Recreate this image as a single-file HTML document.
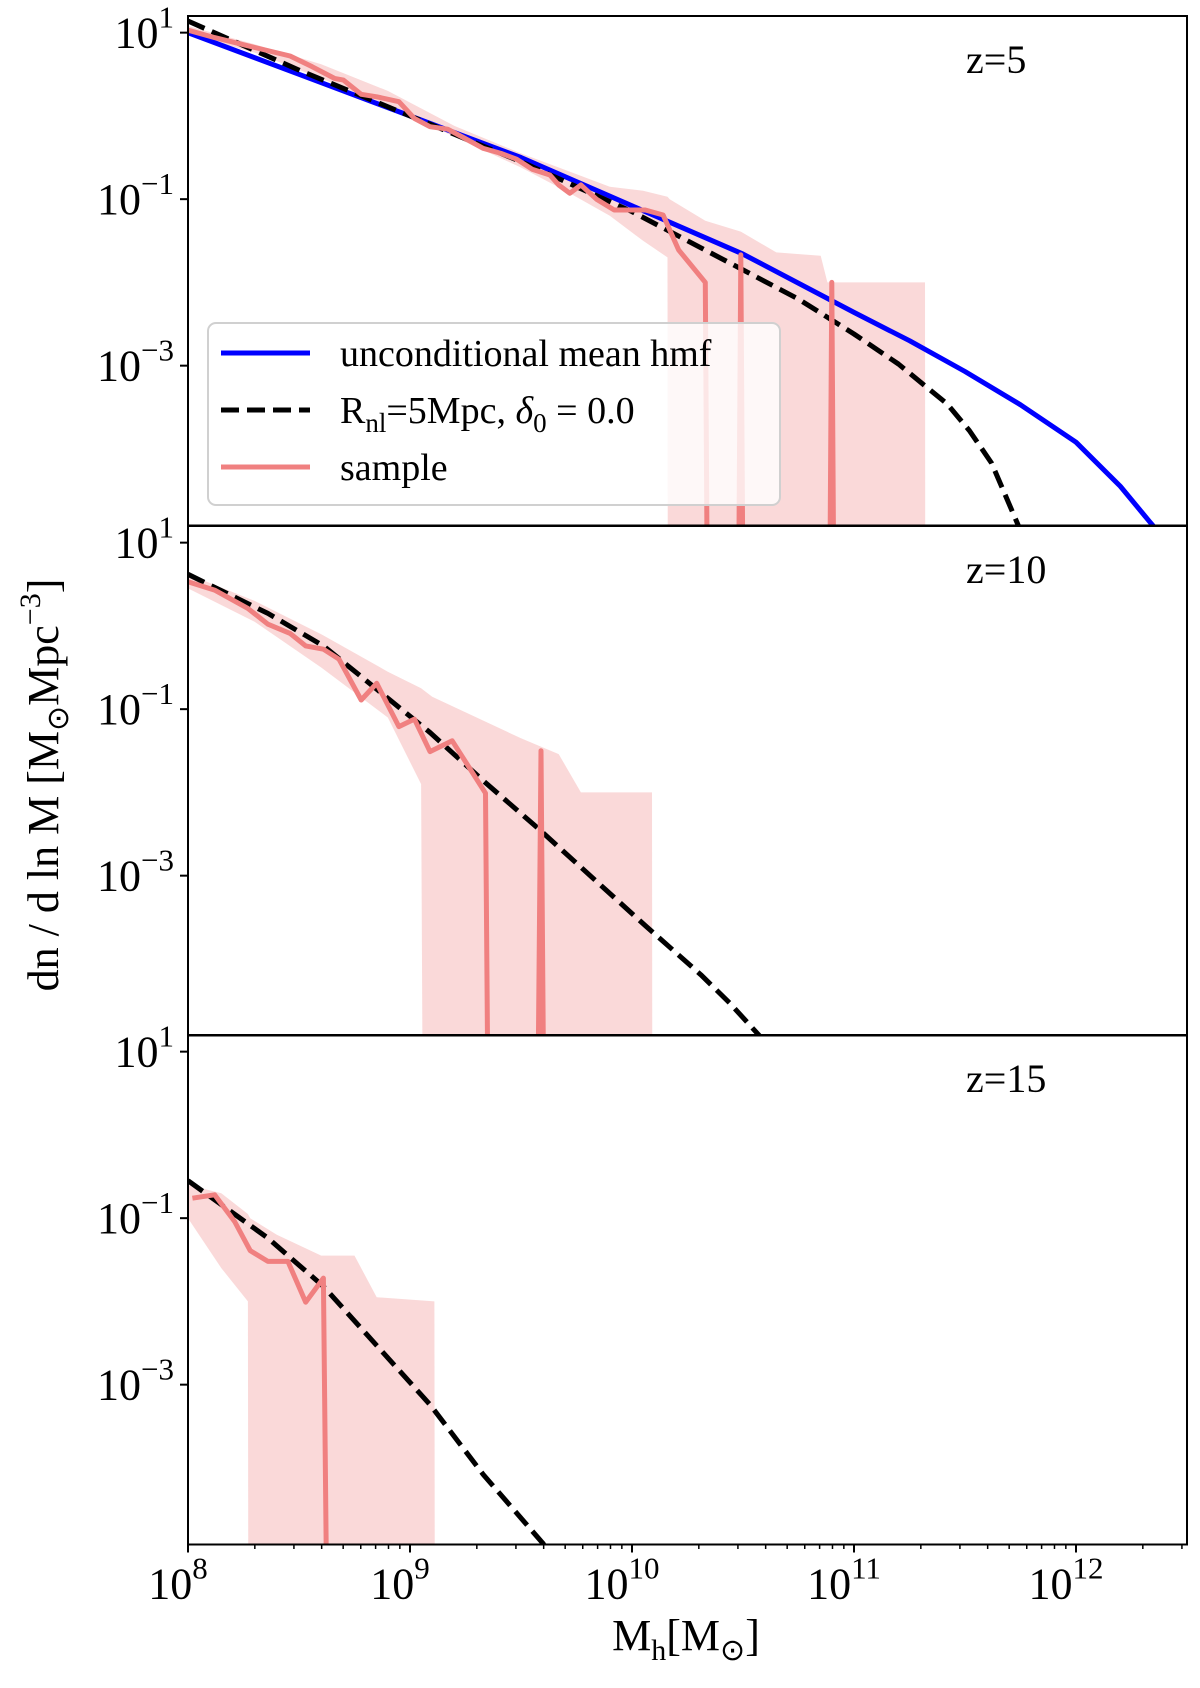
<!DOCTYPE html>
<html><head><meta charset="utf-8"><style>
html,body{margin:0;padding:0;background:#fff;width:1200px;height:1688px;overflow:hidden;}
svg{display:block;font-family:"Liberation Serif",serif;}
</style></head><body>
<svg id="fig" width="1200" height="1688" viewBox="0 0 1200 1688" xmlns="http://www.w3.org/2000/svg"></svg>
<script>
// ---- data (log10 values) ----
const xTickExps = [8, 9, 10, 11, 12];
const yTickExps = [1, -1, -3];
const panelLabels = ["z=5", "z=10", "z=15"];
// unconditional mean hmf (z=5 only)
const blueX = [8.0, 8.5, 9.0, 9.5, 10.0, 10.5, 11.0, 11.25, 11.5, 11.75, 12.0, 12.2, 12.33, 12.5];
const blueY = [1.0, 0.5, 0.0, -0.5, -1.08, -1.66, -2.36, -2.7, -3.07, -3.47, -3.92, -4.45, -4.87, -5.4];
// conditional hmf
const dashX = [
  [8.0, 8.5, 9.0, 9.5, 10.0, 10.5, 10.75, 11.0, 11.2, 11.42, 11.52, 11.62, 11.74, 11.8],
  [8.0, 8.36, 8.61, 8.85, 9.09, 9.33, 9.58, 9.82, 10.06, 10.31, 10.44, 10.57, 10.65],
  [8.0, 8.36, 8.61, 8.85, 9.09, 9.33, 9.60, 9.7]
];
const dashY = [
  [1.14, 0.55, 0.0, -0.55, -1.15, -1.85, -2.2, -2.62, -2.98, -3.46, -3.78, -4.17, -4.92, -5.3],
  [0.62, 0.15, -0.24, -0.76, -1.28, -1.86, -2.44, -3.02, -3.6, -4.19, -4.53, -4.91, -5.15],
  [-0.55, -1.24, -1.82, -2.53, -3.24, -4.08, -4.91, -5.4]
];
// sample (null = zero count)
const sampX = [
  [8.0,8.12,8.32,8.46,8.56,8.66,8.70,8.78,8.85,8.95,9.02,9.09,9.17,9.24,9.33,9.41,9.48,9.55,9.63,9.67,9.72,9.77,9.84,9.92,10.06,10.14,10.21,10.33,10.41,10.49,10.57,10.82,10.90,10.98],
  [8.0,8.12,8.27,8.36,8.46,8.53,8.61,8.68,8.78,8.85,8.95,9.02,9.09,9.19,9.34,9.42,9.50,9.59,9.67],
  [8.02,8.12,8.21,8.28,8.36,8.45,8.53,8.61,8.69]
];
const sampY = [
  [1.03,0.94,0.81,0.72,0.59,0.45,0.43,0.26,0.23,0.17,-0.03,-0.13,-0.16,-0.26,-0.39,-0.45,-0.52,-0.64,-0.71,-0.83,-0.93,-0.83,-1.0,-1.13,-1.13,-1.19,-1.61,-2.0,null,-1.67,null,null,-2.0,null],
  [0.53,0.43,0.21,0.02,-0.09,-0.24,-0.28,-0.40,-0.89,-0.69,-1.21,-1.12,-1.51,-1.38,-2.01,null,null,-1.50,null],
  [-0.76,-0.72,-1.04,-1.39,-1.52,-1.52,-2.01,-1.72,null]
];
// sample spread band
const bandX = [
  [8.0,8.3,8.6,8.9,9.2,9.5,9.7,9.9,10.05,10.16,10.17,10.33,10.49,10.65,10.85,10.88,11.32,11.33],
  [8.0,8.3,8.6,8.9,9.05,9.10,9.3,9.5,9.67,9.77,10.09,10.10],
  [8.0,8.15,8.27,8.28,8.4,8.6,8.75,8.85,9.11,9.12]
];
const bandLo = [
  [0.98,0.76,0.45,0.12,-0.25,-0.62,-0.9,-1.2,-1.5,-1.7,null,null,null,null,null,null,null,null],
  [0.45,0.05,-0.5,-1.1,-1.9,null,null,null,null,null,null,null],
  [-1.0,-1.6,-2.0,null,null,null,null,null,null,null]
];
const bandHi = [
  [1.08,0.86,0.62,0.30,-0.12,-0.45,-0.65,-0.85,-0.9,-0.97,-1.0,-1.26,-1.39,-1.64,-1.68,-2.0,-2.0,null],
  [0.62,0.3,-0.1,-0.55,-0.75,-0.85,-1.1,-1.35,-1.54,-2.0,-2.0,null],
  [-0.6,-0.7,-0.95,-1.0,-1.2,-1.45,-1.45,-1.95,-2.0,null]
];

// ---- layout ----
const L = 188, R = 1187, X0 = 8, X1 = 12.5;
const panelTop = [16, 526, 1035], PH = 509.5, Y0 = -4.92, Y1 = 1.2;
const NS = "http://www.w3.org/2000/svg";
const svg = document.getElementById('fig');
function mk(tag, attrs, parent){ const e = document.createElementNS(NS, tag); for (const k in attrs) e.setAttribute(k, attrs[k]); (parent||svg).appendChild(e); return e; }
const sx = v => L + (v - X0) / (X1 - X0) * (R - L);
function syFor(p){ return v => panelTop[p] + (Y1 - (v === null ? -300 : v)) / (Y1 - Y0) * PH; }
function pathD(xs, ys, sy){ return xs.map((x,i)=> (i?'L':'M') + sx(x).toFixed(1) + ',' + Math.max(-1000, Math.min(3000, sy(ys[i]))).toFixed(1)).join(' '); }

const defs = mk('defs', {});
for (let p = 0; p < 3; p++) {
  const cp = mk('clipPath', {id: 'clip' + p}, defs);
  mk('rect', {x: L, y: panelTop[p], width: R - L, height: PH}, cp);
}

for (let p = 0; p < 3; p++) {
  const sy = syFor(p);
  const g = mk('g', {'clip-path': 'url(#clip' + p + ')'});
  
  
  // band
  const bx = bandX[p];
  let d = bx.map((x,i)=> (i?'L':'M') + sx(x).toFixed(1) + ',' + Math.min(3000, sy(bandHi[p][i])).toFixed(1)).join(' ');
  for (let i = bx.length - 1; i >= 0; i--) d += ' L' + sx(bx[i]).toFixed(1) + ',' + Math.min(3000, sy(bandLo[p][i])).toFixed(1);
  const band = mk('path', {d: d + ' Z', fill: '#f08080', 'fill-opacity': 0.3, stroke: 'none'}, g);
  
  
  if (p === 0) {
    const bl = mk('path', {d: pathD(blueX, blueY, sy), fill: 'none', stroke: '#0000ff', 'stroke-width': 5, 'stroke-linejoin': 'round'}, g);
    
    
  }
  const dl = mk('path', {d: pathD(dashX[p], dashY[p], sy), fill: 'none', stroke: '#000', 'stroke-width': 5, 'stroke-dasharray': '18,8', 'stroke-linejoin': 'round'}, g);
  
  
  const sl = mk('path', {d: pathD(sampX[p], sampY[p], sy), fill: 'none', stroke: '#f08080', 'stroke-width': 5, 'stroke-linejoin': 'round'}, g);
  
  

  // frame
  const fr = mk('rect', {x: L, y: panelTop[p], width: R - L, height: PH, fill: 'none', stroke: '#000', 'stroke-width': 2});
  
  
  // y ticks
  yTickExps.forEach(e => {
    const y = sy(e);
    mk('line', {x1: L - 8, x2: L, y1: y, y2: y, stroke: '#000', 'stroke-width': 2});
    const t = mk('text', {x: L - 14, y: y + 15, 'text-anchor': 'end', 'font-size': 44});
    
    
    t.innerHTML = '10<tspan dy="-20" font-size="31">' + (e < 0 ? '\u2212' + (-e) : e) + '</tspan>';
  });
  const zl = mk('text', {x: 966, y: 72, 'font-size': 40});
  zl.setAttribute('y', panelTop[p] + 57);
  
  
  zl.textContent = panelLabels[p];
}

// x ticks (bottom)
const yb = panelTop[2] + PH;
for (let e = 8; e <= 12; e++) {
  for (let m = 1; m <= 9; m++) {
    const v = e + Math.log10(m);
    if (v > X1) continue;
    mk('line', {x1: sx(v), x2: sx(v), y1: yb, y2: yb + (m === 1 ? 8 : 4.5), stroke: '#000', 'stroke-width': m === 1 ? 2 : 1.5});
  }
}
xTickExps.forEach(e => {
  const t = mk('text', {x: sx(e) - 10, y: yb + 54, 'text-anchor': 'middle', 'font-size': 44});
  
  
  t.innerHTML = '10<tspan dy="-20" font-size="31">' + e + '</tspan>';
});

// axis titles
const xt = mk('text', {x: 686, y: 1650, 'text-anchor': 'middle', 'font-size': 44});


xt.innerHTML = 'M<tspan dy="10" font-size="30">h</tspan><tspan dy="-10">[M</tspan><tspan dy="10" font-size="30">\u2299</tspan><tspan dy="-10">]</tspan>';
const yt = mk('text', {x: 0, y: 0, 'text-anchor': 'middle', 'font-size': 44, transform: 'translate(58,785) rotate(-90)'});


yt.innerHTML = 'dn / d ln M  [M<tspan dy="10" font-size="30">\u2299</tspan><tspan dy="-10">Mpc</tspan><tspan dy="-18" font-size="30">\u22123</tspan><tspan dy="18">]</tspan>';

// legend
const lg = mk('g', {});


mk('rect', {x: 208, y: 323, width: 572, height: 182, rx: 8, fill: '#fff', 'fill-opacity': 0.8, stroke: '#d0d0d0', 'stroke-width': 2}, lg);
const entries = [
  {y: 353, stroke: '#0000ff', dash: null, html: 'unconditional mean hmf', name: 'legend-entry-unconditional'},
  {y: 410, stroke: '#000', dash: '18,8', html: 'R<tspan dy="9" font-size="27">nl</tspan><tspan dy="-9">=5Mpc, </tspan><tspan font-style="italic">\u03b4</tspan><tspan dy="9" font-size="27">0</tspan><tspan dy="-9"> = 0.0</tspan>', name: 'legend-entry-conditional'},
  {y: 467, stroke: '#f08080', dash: null, html: 'sample', name: 'legend-entry-sample'}
];
entries.forEach(en => {
  const eg = mk('g', {}, lg);
  
  
  const a = {x1: 221, x2: 310, y1: en.y, y2: en.y, stroke: en.stroke, 'stroke-width': 5};
  if (en.dash) a['stroke-dasharray'] = en.dash;
  mk('line', a, eg);
  const t = mk('text', {x: 340, y: en.y + 13, 'font-size': 38}, eg);
  t.innerHTML = en.html;
});
</script>
</body></html>
